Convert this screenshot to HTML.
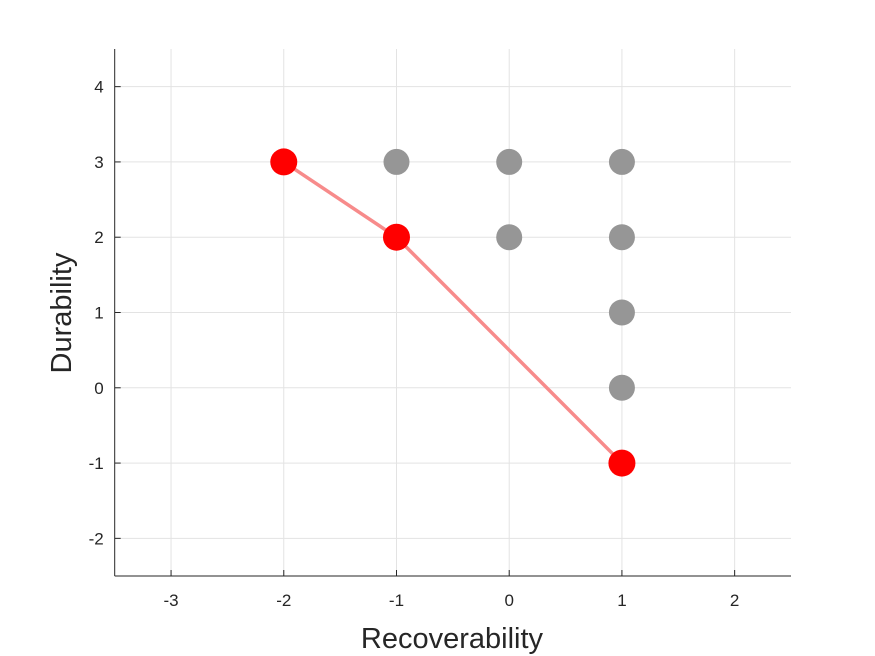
<!DOCTYPE html>
<html><head><meta charset="utf-8"><style>
html,body{margin:0;padding:0;background:#fff;}
svg{display:block;font-family:"Liberation Sans",sans-serif;}
</style></head><body>
<svg id="chart" width="875" height="656" viewBox="0 0 875 656">
<g id="grid"></g>
<g id="axes"></g>
<g id="marks"></g>
<text x="452" y="648" text-anchor="middle" font-size="29" fill="#262626">Recoverability</text>
<text transform="translate(71,313) rotate(-90)" text-anchor="middle" font-size="29" fill="#262626">Durability</text>
</svg>
<script>
const xTicks=[-3,-2,-1,0,1,2];
const yTicks=[-2,-1,0,1,2,3,4];
const grayX=[-1,0,1,0,1,1,1];
const grayY=[3,3,3,2,2,1,0];
const redX=[-2,-1,1];
const redY=[3,2,-1];
const X0=114.7,X1=791,Y0=576,Y1=49;
const xmin=-3.5,xmax=2.5,ymin=-2.5,ymax=4.5;
function sx(v){return X0+(v-xmin)/(xmax-xmin)*(X1-X0);}
function sy(v){return Y0-(v-ymin)/(ymax-ymin)*(Y0-Y1);}
const NS="http://www.w3.org/2000/svg";
function mk(tag,attrs,parent){const e=document.createElementNS(NS,tag);for(const k in attrs)e.setAttribute(k,attrs[k]);parent.appendChild(e);return e;}
const grid=document.getElementById('grid'),axes=document.getElementById('axes'),marks=document.getElementById('marks');
xTicks.forEach(t=>{
 const l=mk('line',{x1:sx(t),x2:sx(t),y1:Y1,y2:Y0,stroke:'#e3e3e3','stroke-width':1},grid);
 
 
 const tk=mk('line',{x1:sx(t),x2:sx(t),y1:Y0,y2:Y0-6,stroke:'#262626','stroke-width':1},axes);
 
 
 const tx=mk('text',{x:sx(t),y:Y0+30,'text-anchor':'middle','font-size':17,fill:'#262626'},axes);
 tx.textContent=t;
 
 
});
yTicks.forEach(t=>{
 const l=mk('line',{x1:X0,x2:X1,y1:sy(t),y2:sy(t),stroke:'#e3e3e3','stroke-width':1},grid);
 
 
 const tk=mk('line',{x1:X0,x2:X0+6,y1:sy(t),y2:sy(t),stroke:'#262626','stroke-width':1},axes);
 
 
 const tx=mk('text',{x:X0-11,y:sy(t)+6,'text-anchor':'end','font-size':17,fill:'#262626'},axes);
 tx.textContent=t;
 
 
});
const xa=mk('line',{x1:X0,x2:X1,y1:Y0,y2:Y0,stroke:'#262626','stroke-width':1},axes);


const ya=mk('line',{x1:X0,x2:X0,y1:Y1,y2:Y0,stroke:'#262626','stroke-width':1},axes);


grayX.forEach((v,i)=>{
 const c=mk('circle',{cx:sx(v),cy:sy(grayY[i]),r:13,fill:'#969696'},marks);
 
 
});
const pl=mk('polyline',{points:redX.map((v,i)=>sx(v)+','+sy(redY[i])).join(' '),fill:'none',stroke:'#f78b8b','stroke-width':3.5},marks);


redX.forEach((v,i)=>{
 const c=mk('circle',{cx:sx(v),cy:sy(redY[i]),r:13.5,fill:'#ff0000'},marks);
 
 
});
</script>
</body></html>
